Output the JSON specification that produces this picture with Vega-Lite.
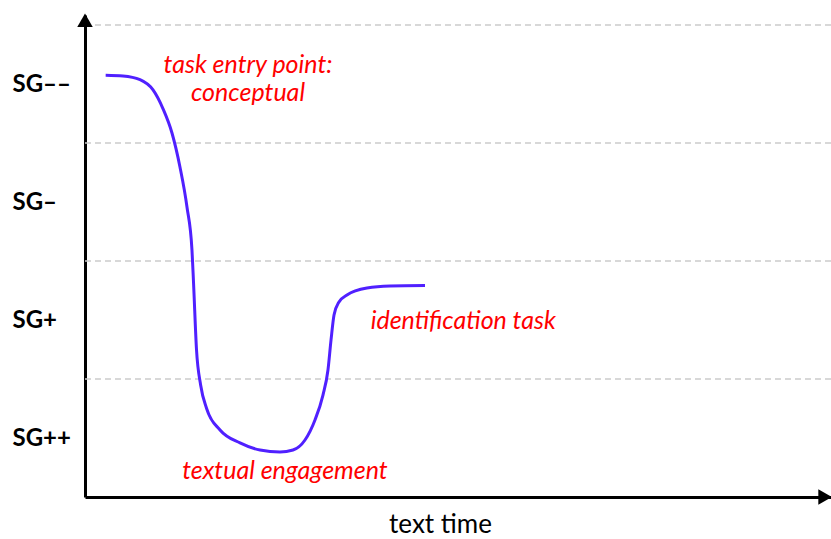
{
  "$schema": "https://vega.github.io/schema/vega-lite/v6.json",
  "width": 746,
  "height": 482,
  "autosize": {"type": "none"},
  "padding": {"left": 85, "top": 15, "right": 0, "bottom": 42},
  "background": "white",
  "config": {
    "view": {"stroke": null},
    "font": "Lato",
    "axisX": {
      "domain": true, "domainColor": "black", "domainWidth": 3,
      "ticks": false, "tickSize": 0, "labels": false, "grid": false,
      "titleFont": "Lato", "titleFontSize": 26, "titleFontWeight": "normal", "titleColor": "black",
      "titleX": 355, "titleY": 35, "titleAlign": "center", "titleBaseline": "alphabetic"
    },
    "axisY": {
      "domain": true, "domainColor": "black", "domainWidth": 3,
      "ticks": false, "tickSize": 0, "grid": false,
      "labelFont": "Lato", "labelFontSize": 24, "labelFontWeight": "bold",
      "labelColor": "black", "labelAlign": "left", "labelBaseline": "middle",
      "labelPadding": 73, "labelBound": false, "labelOverlap": false
    }
  },
  "datasets": {
    "curve": [
      {"x": 2.77, "y": 3.574}, {"x": 5.09, "y": 3.568}, {"x": 7.37, "y": 3.537},
      {"x": 9.12, "y": 3.45}, {"x": 10.46, "y": 3.29}, {"x": 11.66, "y": 3.085},
      {"x": 12.73, "y": 2.797}, {"x": 13.67, "y": 2.458}, {"x": 14.34, "y": 2.093},
      {"x": 14.55, "y": 1.814}, {"x": 14.95, "y": 1.246}, {"x": 15.5, "y": 0.95},
      {"x": 16.3, "y": 0.75}, {"x": 18.1, "y": 0.568}, {"x": 20.78, "y": 0.458},
      {"x": 23.46, "y": 0.398}, {"x": 26.14, "y": 0.381}, {"x": 27.88, "y": 0.398},
      {"x": 29.49, "y": 0.483}, {"x": 30.83, "y": 0.653}, {"x": 31.9, "y": 0.864},
      {"x": 32.57, "y": 1.076}, {"x": 32.98, "y": 1.331}, {"x": 33.38, "y": 1.542},
      {"x": 34.05, "y": 1.653}, {"x": 35.12, "y": 1.712}, {"x": 37.8, "y": 1.771},
      {"x": 40.88, "y": 1.788}, {"x": 45.58, "y": 1.792}
    ],
    "grid": [{"y": 1}, {"y": 2}, {"y": 3}, {"y": 4}],
    "notes": [
      {"x": 21.85, "y": 3.66, "label": "task entry point:"},
      {"x": 21.85, "y": 3.42, "label": "conceptual"},
      {"x": 50.7, "y": 1.49, "label": "identification task"},
      {"x": 26.8, "y": 0.22, "label": "textual engagement"}
    ],
    "yArrow": [{"x": 0, "y": 4.04}],
    "xArrow": [{"x": 99.2, "y": 0}]
  },
  "layer": [
    {
      "data": {"name": "grid"},
      "mark": {"type": "rule", "color": "#cccccc", "strokeDash": [6, 4], "strokeWidth": 1.5},
      "encoding": {
        "y": {
          "field": "y", "type": "quantitative",
          "scale": {"domain": [0, 4.085], "nice": false, "zero": false},
          "axis": {"values": [0.5, 1.5, 2.5, 3.5], "labelExpr": "datum.value == 3.5 ? 'SG––' : datum.value == 2.5 ? 'SG–' : datum.value == 1.5 ? 'SG+' : 'SG++'", "title": null}
        }
      }
    },
    {
      "data": {"name": "curve"},
      "mark": {"type": "line", "color": "#5020ff", "strokeWidth": 3, "interpolate": "monotone"},
      "encoding": {
        "x": {
          "field": "x", "type": "quantitative",
          "scale": {"domain": [0, 100], "nice": false, "zero": false},
          "axis": {"title": "text time"}
        },
        "y": {
          "field": "y", "type": "quantitative",
          "axis": {"values": [0.5, 1.5, 2.5, 3.5], "labelExpr": "datum.value == 3.5 ? 'SG––' : datum.value == 2.5 ? 'SG–' : datum.value == 1.5 ? 'SG+' : 'SG++'", "title": null}
        }
      }
    },
    {
      "data": {"name": "notes"},
      "mark": {"type": "text", "color": "#ff0000", "fontStyle": "italic", "fontSize": 25, "font": "Lato", "align": "center", "baseline": "middle"},
      "encoding": {
        "x": {"field": "x", "type": "quantitative", "axis": {"title": "text time"}},
        "y": {
          "field": "y", "type": "quantitative",
          "axis": {"values": [0.5, 1.5, 2.5, 3.5], "labelExpr": "datum.value == 3.5 ? 'SG––' : datum.value == 2.5 ? 'SG–' : datum.value == 1.5 ? 'SG+' : 'SG++'", "title": null}
        },
        "text": {"field": "label", "type": "nominal"}
      }
    },
    {
      "data": {"name": "yArrow"},
      "mark": {"type": "point", "shape": "triangle-up", "filled": true, "color": "black", "size": 240, "opacity": 1},
      "encoding": {
        "x": {"field": "x", "type": "quantitative", "axis": {"title": "text time"}},
        "y": {
          "field": "y", "type": "quantitative",
          "axis": {"values": [0.5, 1.5, 2.5, 3.5], "labelExpr": "datum.value == 3.5 ? 'SG––' : datum.value == 2.5 ? 'SG–' : datum.value == 1.5 ? 'SG+' : 'SG++'", "title": null}
        }
      }
    },
    {
      "data": {"name": "xArrow"},
      "mark": {"type": "point", "shape": "triangle-right", "filled": true, "color": "black", "size": 240, "opacity": 1},
      "encoding": {
        "x": {"field": "x", "type": "quantitative", "axis": {"title": "text time"}},
        "y": {
          "field": "y", "type": "quantitative",
          "axis": {"values": [0.5, 1.5, 2.5, 3.5], "labelExpr": "datum.value == 3.5 ? 'SG––' : datum.value == 2.5 ? 'SG–' : datum.value == 1.5 ? 'SG+' : 'SG++'", "title": null}
        }
      }
    }
  ]
}
